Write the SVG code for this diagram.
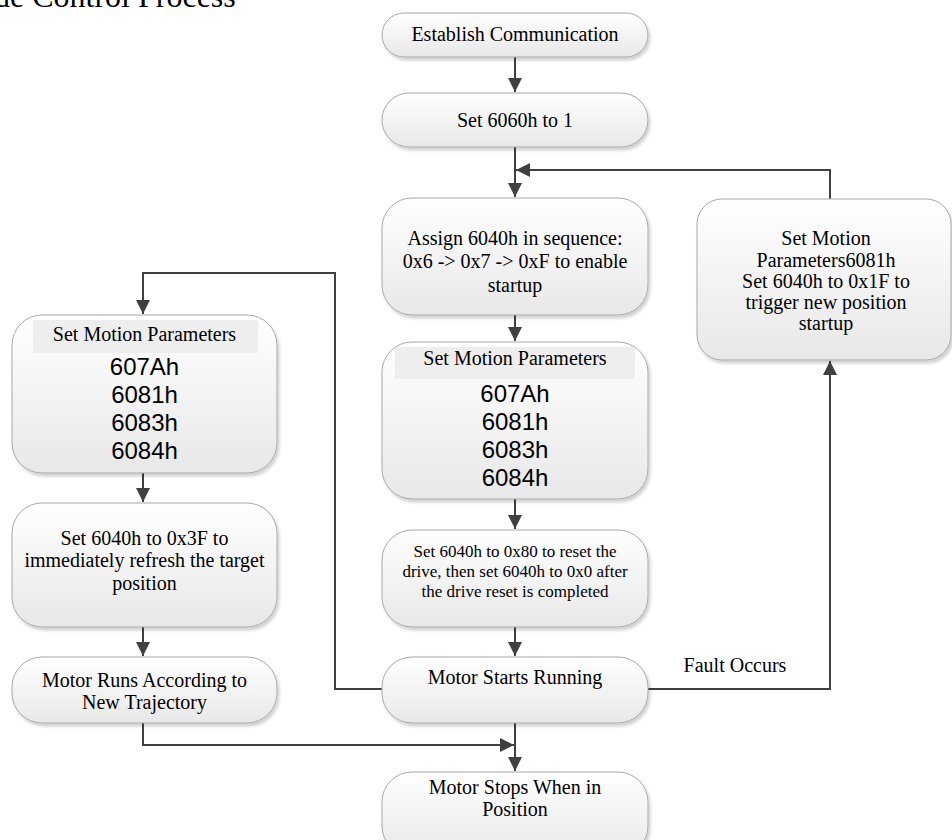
<svg xmlns="http://www.w3.org/2000/svg" width="952" height="840" viewBox="0 0 952 840">
<defs>
<linearGradient id="g" x1="0" y1="0" x2="0" y2="1">
<stop offset="0" stop-color="#ffffff"/>
<stop offset="1" stop-color="#e8e8e8"/>
</linearGradient>
<filter id="sh" x="-10%" y="-10%" width="130%" height="130%">
<feDropShadow dx="2" dy="3" stdDeviation="1.5" flood-color="#000" flood-opacity="0.18"/>
</filter>
<marker id="ah" viewBox="0 0 14 14" refX="14" refY="7" markerWidth="14" markerHeight="14" markerUnits="userSpaceOnUse" orient="auto">
<path d="M0,0 L14,7 L0,14 z" fill="#404040"/>
</marker>
</defs>
<style>
.box{fill:url(#g);stroke:#a8a8a8;stroke-width:1;filter:url(#sh)}
.band{fill:#eeeeee}
.t{font-family:"Liberation Serif","Times New Roman",serif;font-size:20px;fill:#000;text-anchor:middle}
.s{font-size:17px}
.h{font-family:"Liberation Sans",Arial,sans-serif;font-size:24px;fill:#000;text-anchor:middle}
.c{fill:none;stroke:#404040;stroke-width:2}
.title{font-family:"Liberation Serif","Times New Roman",serif;font-size:32px;fill:#000}
</style>
<rect width="952" height="840" fill="#fff"/>
<text class="title" x="-6" y="7">de Control Process</text>

<g id="connectors">
<path class="c" d="M515,57 V92" marker-end="url(#ah)"/>
<path class="c" d="M515,147 V197" marker-end="url(#ah)"/>
<path class="c" d="M830,199 V170 H516" marker-end="url(#ah)"/>
<path class="c" d="M515,315 V341" marker-end="url(#ah)"/>
<path class="c" d="M515,499 V529" marker-end="url(#ah)"/>
<path class="c" d="M515,627 V656" marker-end="url(#ah)"/>
<path class="c" d="M515,723 V771" marker-end="url(#ah)"/>
<path class="c" d="M648,689 H830 V361" marker-end="url(#ah)"/>
<path class="c" d="M382,689 H335 V273 H143 V314" marker-end="url(#ah)"/>
<path class="c" d="M143,473 V502" marker-end="url(#ah)"/>
<path class="c" d="M143,627 V656" marker-end="url(#ah)"/>
<path class="c" d="M143,723 V745 H514" marker-end="url(#ah)"/>
<text class="t" x="735" y="672">Fault Occurs</text>
</g>

<g id="n1">
<rect class="box" x="382" y="13" width="266" height="44" rx="22"/>
<text class="t" x="515" y="41">Establish Communication</text>
</g>
<g id="n2">
<rect class="box" x="382" y="93" width="266" height="54" rx="27"/>
<text class="t" x="515" y="127">Set 6060h to 1</text>
</g>
<g id="n3">
<rect class="box" x="382" y="198" width="266" height="117" rx="30"/>
<text class="t" x="515" y="245">Assign 6040h in sequence:</text>
<text class="t" x="515" y="268">0x6 -&gt; 0x7 -&gt; 0xF to enable</text>
<text class="t" x="515" y="292">startup</text>
</g>
<g id="n4">
<rect class="box" x="382" y="342" width="266" height="157" rx="30"/>
<rect class="band" x="395" y="347" width="240" height="32"/>
<text class="t" x="515" y="365">Set Motion Parameters</text>
<text class="h" x="515" y="402">607Ah</text>
<text class="h" x="515" y="430">6081h</text>
<text class="h" x="515" y="458">6083h</text>
<text class="h" x="515" y="486">6084h</text>
</g>
<g id="n5">
<rect class="box" x="382" y="530" width="266" height="97" rx="30"/>
<text class="t s" x="515" y="557">Set 6040h to 0x80 to reset the</text>
<text class="t s" x="515" y="577">drive, then set 6040h to 0x0 after</text>
<text class="t s" x="515" y="597">the drive reset is completed</text>
</g>
<g id="n6">
<rect class="box" x="382" y="657" width="266" height="66" rx="30"/>
<text class="t" x="515" y="684">Motor Starts Running</text>
</g>
<g id="n7">
<rect class="box" x="382" y="772" width="266" height="84" rx="30"/>
<text class="t" x="515" y="794">Motor Stops When in</text>
<text class="t" x="515" y="816">Position</text>
</g>
<g id="n8">
<rect class="box" x="697" y="199" width="254" height="161" rx="25"/>
<text class="t" x="826" y="245">Set Motion</text>
<text class="t" x="826" y="267">Parameters6081h</text>
<text class="t" x="826" y="288">Set 6040h to 0x1F to</text>
<text class="t" x="826" y="309">trigger new position</text>
<text class="t" x="826" y="330">startup</text>
</g>
<g id="l1">
<rect class="box" x="12" y="315" width="265" height="158" rx="30"/>
<rect class="band" x="33" y="320" width="225" height="33"/>
<text class="t" x="144.5" y="341">Set Motion Parameters</text>
<text class="h" x="144.5" y="375">607Ah</text>
<text class="h" x="144.5" y="403">6081h</text>
<text class="h" x="144.5" y="431">6083h</text>
<text class="h" x="144.5" y="459">6084h</text>
</g>
<g id="l2">
<rect class="box" x="12" y="503" width="265" height="124" rx="30"/>
<text class="t" x="144.5" y="545">Set 6040h to 0x3F to</text>
<text class="t" x="144.5" y="567">immediately refresh the target</text>
<text class="t" x="144.5" y="590">position</text>
</g>
<g id="l3">
<rect class="box" x="12" y="657" width="265" height="66" rx="30"/>
<text class="t" x="144.5" y="687">Motor Runs According to</text>
<text class="t" x="144.5" y="709">New Trajectory</text>
</g>
</svg>
